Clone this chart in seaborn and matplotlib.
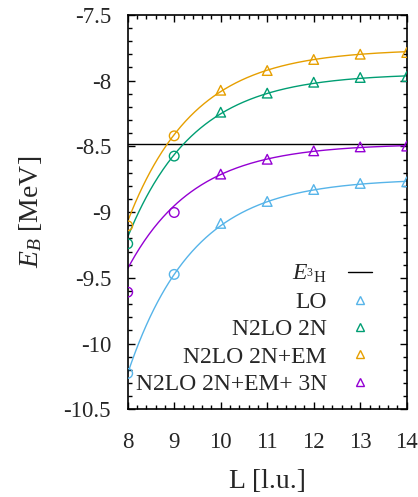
import numpy as np
import pandas as pd
import matplotlib
matplotlib.use("Agg")
import matplotlib.pyplot as plt
import seaborn as sns
from matplotlib.lines import Line2D
from matplotlib.ticker import MultipleLocator, FuncFormatter

# ---- data ----
L_vals = [8, 9, 10, 11, 12, 13, 14]
series_names = ["LO", "N2LO 2N", "N2LO 2N+EM", "N2LO 2N+EM+ 3N"]
E_LO = [-10.227, -9.474, -9.086, -8.919, -8.828, -8.782, -8.770]
E_N2LO_2N = [-9.241, -8.574, -8.240, -8.095, -8.012, -7.976, -7.969]
E_N2LO_EM = [-9.104, -8.420, -8.073, -7.923, -7.839, -7.799, -7.786]
E_N2LO_3N = [-9.609, -9.003, -8.711, -8.598, -8.534, -8.504, -8.498]
E_3H = -8.482

# fit parameters E(L) = Einf - A*exp(-k*(L-8))
fit_Einf = [-8.745, -7.945, -7.76, -8.48]
fit_A = [1.482, 1.245, 1.31, 0.95]
fit_k = [0.71, 0.70, 0.70, 0.70]

colors = ["#56b4e9", "#009e73", "#e69f00", "#9400d3"]
circle_L = [8, 9]

sns.set_theme(style="ticks")
plt.rcParams["font.family"] = ["Liberation Serif", "DejaVu Serif"]
plt.rcParams["mathtext.fontset"] = "custom"
plt.rcParams["mathtext.rm"] = "Liberation Serif"
plt.rcParams["mathtext.it"] = "Liberation Serif:italic"
plt.rcParams["axes.unicode_minus"] = False

fig = plt.figure(figsize=(4.18, 4.97), dpi=100)
ax = fig.add_axes([0.3055, 0.1765, 0.6675, 0.7935])

all_E = [E_LO, E_N2LO_2N, E_N2LO_EM, E_N2LO_3N]
rows = []
for name, E in zip(series_names, all_E):
    for L, e in zip(L_vals, E):
        rows.append({"series": name, "L": L, "E": e,
                     "kind": "circle" if L in circle_L else "tri"})
df = pd.DataFrame(rows)

Lgrid = np.linspace(8, 14, 300)
crows = []
for name, a, b, c in zip(series_names, fit_Einf, fit_A, fit_k):
    for L in Lgrid:
        crows.append({"series": name, "L": L, "E": a - b * np.exp(-c * (L - 8))})
cdf = pd.DataFrame(crows)

ax.axhline(E_3H, color="black", lw=1.0, zorder=1)

sns.lineplot(data=cdf, x="L", y="E", hue="series", palette=colors,
             hue_order=series_names, lw=1.0, legend=False, ax=ax, zorder=2)

for name, col in zip(series_names, colors):
    sub = df[df.series == name]
    tri = sub[sub.kind == "tri"]
    cir = sub[sub.kind == "circle"]
    sns.scatterplot(data=tri, x="L", y="E", marker="^", s=48,
                    facecolor="none", edgecolor=col, linewidth=1.0,
                    legend=False, ax=ax, zorder=3)
    sns.scatterplot(data=cir, x="L", y="E", marker="o", s=48,
                    facecolor="none", edgecolor=col, linewidth=1.0,
                    legend=False, ax=ax, zorder=3)

ax.set_xlim(8, 14)
ax.set_ylim(-10.5, -7.5)
ax.xaxis.set_major_locator(MultipleLocator(1))
ax.xaxis.set_minor_locator(MultipleLocator(0.2))
ax.yaxis.set_major_locator(MultipleLocator(0.5))
ax.yaxis.set_minor_locator(MultipleLocator(0.1))
ax.yaxis.set_major_formatter(FuncFormatter(lambda v, p: "%g" % v))
ax.tick_params(which="both", direction="in", top=True, right=True,
               color="black", width=1.0)
ax.tick_params(which="major", length=5)
ax.tick_params(which="minor", length=3)
ax.tick_params(axis="y", which="major", pad=12, labelsize=16.5)
ax.tick_params(axis="x", which="major", pad=16, labelsize=16.5)
for sp in ax.spines.values():
    sp.set_color("black")
    sp.set_linewidth(1.2)

ax.set_xlabel("L [l.u.]", fontsize=20, labelpad=12)
ax.set_ylabel(r"$E_B$ [MeV]", fontsize=20, labelpad=14)

handles = [Line2D([0], [0], color="black", lw=1.0)]
for col in colors:
    handles.append(Line2D([0], [0], ls="none", marker="^", markersize=6,
                          markerfacecolor="none", markeredgecolor=col,
                          markeredgewidth=1.0))
labels = [r"$E_{{}^{3}\mathrm{H}}$"] + series_names
ax.legend(handles, labels, loc="lower right", bbox_to_anchor=(0.925, 0.0),
          frameon=False, markerfirst=False, fontsize=17, handlelength=1.0,
          handletextpad=0.9, labelspacing=0.25, borderaxespad=0.2)

fig.savefig("out.png", dpi=100)
